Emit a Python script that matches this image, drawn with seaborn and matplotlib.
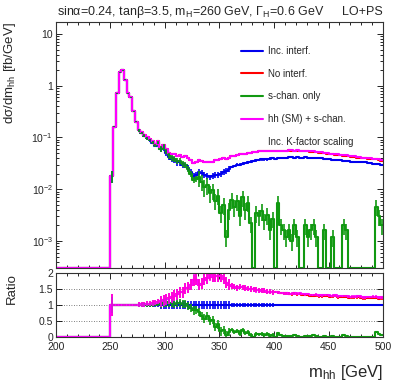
import numpy as np
import pandas as pd
import matplotlib
matplotlib.use("Agg")
import matplotlib.pyplot as plt
import seaborn as sns
from matplotlib.lines import Line2D
from matplotlib.ticker import MultipleLocator, LogLocator, NullFormatter, FuncFormatter

# 2.5 GeV bins, 200-500 GeV; bins below 250 GeV are empty
bin_width = 2.5
n_empty = 20

# hh (SM) + s-chan. (magenta), 250-500 GeV
hh_plus_s = [
    0.018, 0.16, 0.72, 1.8, 2.0, 1.3, 0.72, 0.60, 0.32, 0.20,
    0.14, 0.125, 0.11, 0.10, 0.092, 0.084, 0.074, 0.086, 0.066, 0.071,
    0.059, 0.051, 0.047, 0.048, 0.044, 0.046, 0.042, 0.044, 0.040, 0.036,
    0.032, 0.034, 0.036, 0.035, 0.034, 0.033, 0.033, 0.034, 0.036, 0.036,
    0.038, 0.040, 0.039, 0.041, 0.043, 0.044, 0.046, 0.047, 0.048, 0.049,
    0.050, 0.051, 0.052, 0.053, 0.054, 0.055, 0.055, 0.054, 0.055, 0.056,
    0.055, 0.056, 0.055, 0.056, 0.056, 0.057, 0.057, 0.056, 0.057, 0.056,
    0.055, 0.056, 0.055, 0.054, 0.054, 0.053, 0.052, 0.052, 0.051, 0.050,
    0.049, 0.048, 0.047, 0.047, 0.046, 0.045, 0.045, 0.044, 0.043, 0.043,
    0.042, 0.042, 0.041, 0.041, 0.040, 0.040, 0.039, 0.039, 0.038, 0.036,
]

# No interf. (red)
no_interf = [
    0.018, 0.16, 0.72, 1.8, 2.0, 1.3, 0.72, 0.60, 0.32, 0.20,
    0.14, 0.125, 0.11, 0.10, 0.092, 0.084, 0.074, 0.086, 0.066, 0.071,
    0.059, 0.051, 0.047, 0.048, 0.044, 0.046, 0.042, 0.044, 0.040, 0.036,
    0.032, 0.034, 0.036, 0.035, 0.034, 0.033, 0.033, 0.034, 0.036, 0.036,
    0.038, 0.040, 0.039, 0.041, 0.043, 0.044, 0.046, 0.047, 0.048, 0.049,
    0.050, 0.051, 0.052, 0.053, 0.054, 0.055, 0.055, 0.054, 0.055, 0.056,
    0.055, 0.056, 0.055, 0.056, 0.056, 0.057, 0.056, 0.056, 0.056, 0.055,
    0.054, 0.055, 0.054, 0.053, 0.053, 0.052, 0.051, 0.051, 0.050, 0.049,
    0.048, 0.047, 0.046, 0.046, 0.045, 0.044, 0.044, 0.043, 0.042, 0.042,
    0.041, 0.041, 0.040, 0.040, 0.039, 0.039, 0.038, 0.038, 0.037, 0.035,
]

# Inc. interf. (blue)
inc_interf = [
    0.018, 0.16, 0.72, 1.8, 2.0, 1.3, 0.72, 0.60, 0.32, 0.20,
    0.138, 0.122, 0.107, 0.096, 0.088, 0.079, 0.069, 0.078, 0.059, 0.062,
    0.050, 0.042, 0.038, 0.037, 0.033, 0.033, 0.030, 0.029, 0.026, 0.022,
    0.018, 0.019, 0.022, 0.021, 0.019, 0.018, 0.017, 0.018, 0.019, 0.019,
    0.020, 0.022, 0.023, 0.025, 0.027, 0.028, 0.030, 0.030, 0.031, 0.032,
    0.033, 0.034, 0.035, 0.036, 0.037, 0.038, 0.038, 0.038, 0.039, 0.040,
    0.039, 0.040, 0.040, 0.041, 0.041, 0.042, 0.042, 0.041, 0.042, 0.041,
    0.041, 0.042, 0.041, 0.041, 0.041, 0.040, 0.040, 0.040, 0.039, 0.038,
    0.038, 0.037, 0.036, 0.037, 0.036, 0.035, 0.035, 0.035, 0.034, 0.034,
    0.033, 0.033, 0.033, 0.033, 0.032, 0.032, 0.031, 0.031, 0.031, 0.029,
]

# s-chan. only (green)
s_chan = [
    0.018, 0.16, 0.72, 1.8, 2.0, 1.3, 0.72, 0.60, 0.32, 0.20,
    0.138, 0.123, 0.108, 0.097, 0.089, 0.080, 0.070, 0.080, 0.061, 0.066,
    0.054, 0.045, 0.040, 0.038, 0.035, 0.035, 0.031, 0.030, 0.025, 0.020,
    0.015, 0.016, 0.017, 0.014, 0.011, 0.012, 0.0085, 0.0095, 0.006, 0.0075,
    0.0035, 0.005, 0.0012, 0.004, 0.0063, 0.0045, 0.0058, 0.0030, 0.0070, 0.0040,
    0.0055, 0.0022, 0.0, 0.0035, 0.0030, 0.0038, 0.0025, 0.0032, 0.0016, 0.0027,
    0.0, 0.0054, 0.0020, 0.0016, 0.0012, 0.0016, 0.0010, 0.0020, 0.0012, 0.0,
    0.0, 0.0020, 0.0012, 0.0016, 0.0020, 0.0012, 0.0, 0.0, 0.0016, 0.0,
    0.0, 0.0012, 0.0, 0.0, 0.0, 0.0020, 0.0016, 0.0, 0.0, 0.0,
    0.0, 0.0, 0.0, 0.0, 0.0, 0.0, 0.0, 0.0046, 0.0030, 0.0020,
]

# relative statistical uncertainty, piecewise in m_hh
err_edges = [250, 252.5, 275, 295, 360, 400, 500]
err_rel = [0.25, 0.02, 0.06, 0.13, 0.06, 0.03]

series_names = ["Inc. interf.", "No interf.", "s-chan. only", "hh (SM) + s-chan."]
series_colors = ["#0000ee", "#ff0000", "#119911", "#ff00ff"]

# ------------------------------------------------------------------
low_edges = 200 + bin_width * np.arange(n_empty + len(inc_interf))
centers = low_edges + bin_width / 2
step_x = np.append(low_edges, 500.0)

vals = {}
for name, arr in zip(series_names, [inc_interf, no_interf, s_chan, hh_plus_s]):
    vals[name] = np.concatenate([np.zeros(n_empty), np.array(arr)])

rel = np.zeros(len(low_edges))
for lo, hi, e in zip(err_edges[:-1], err_edges[1:], err_rel):
    rel[(low_edges >= lo) & (low_edges < hi)] = e

denom = vals["Inc. interf."]
ratios = {}
for name in series_names:
    r = np.zeros(len(low_edges))
    ok = denom > 0
    r[ok] = vals[name][ok] / denom[ok]
    ratios[name] = r

ymin, ymax = 3e-4, 17

main_rows = []
ratio_rows = []
for name in series_names:
    v = np.where(vals[name] > 0, vals[name], ymin)
    v = np.append(v, v[-1])
    r = np.append(ratios[name], ratios[name][-1])
    for x, a, b in zip(step_x, v, r):
        main_rows.append((x, a, name))
        ratio_rows.append((x, b, name))
main_df = pd.DataFrame(main_rows, columns=["mhh", "value", "series"])
ratio_df = pd.DataFrame(ratio_rows, columns=["mhh", "ratio", "series"])

sns.set_theme(style="ticks")
plt.rcParams["font.family"] = ["Liberation Sans", "DejaVu Sans"]
plt.rcParams["mathtext.fontset"] = "custom"
plt.rcParams["mathtext.rm"] = "Liberation Sans"
plt.rcParams["mathtext.it"] = "Liberation Sans"
plt.rcParams["mathtext.bf"] = "Liberation Sans:bold"

fig = plt.figure(figsize=(3.99, 3.83), dpi=100)
ax = fig.add_axes([0.140, 0.300, 0.820, 0.6426])
axr = fig.add_axes([0.140, 0.120, 0.820, 0.1672])

palette = dict(zip(series_names, series_colors))
lw = 1.5

# main panel
sns.lineplot(data=main_df, x="mhh", y="value", hue="series", hue_order=series_names,
             palette=palette, drawstyle="steps-post", estimator=None, sort=False,
             linewidth=lw, legend=False, ax=ax)
for name in ["Inc. interf.", "s-chan. only"]:
    v = vals[name]
    e = rel if name == "Inc. interf." else np.maximum(rel, 0.35 * (centers > 330))
    m = v > 0
    ax.vlines(centers[m], v[m] * (1 - e[m]), v[m] * (1 + e[m]), color=palette[name], lw=1.2)

ax.set_yscale("log")
ax.set_xlim(200, 500)
ax.set_ylim(ymin, ymax)

def log_fmt(y, pos):
    if abs(y - 10) < 1e-9:
        return "10"
    if abs(y - 1) < 1e-9:
        return "1"
    return r"$10^{%d}$" % int(round(np.log10(y)))

ax.yaxis.set_major_locator(LogLocator(base=10, numticks=10))
ax.yaxis.set_minor_locator(LogLocator(base=10, subs=np.arange(2, 10), numticks=20))
ax.yaxis.set_major_formatter(FuncFormatter(log_fmt))
ax.yaxis.set_minor_formatter(NullFormatter())
ax.xaxis.set_major_locator(MultipleLocator(50))
ax.xaxis.set_minor_locator(MultipleLocator(10))
ax.tick_params(labelbottom=False)
ax.set_xlabel("")
ax.set_ylabel(r"d$\sigma$/dm$_{hh}$ [fb/GeV]", fontsize=9.5, ha="right")
ax.yaxis.set_label_coords(-0.116, 1.0)

handles = [Line2D([], [], color=c, lw=lw) for c in series_colors]
handles.append(Line2D([], [], color="none", lw=0))
ax.legend(handles, series_names + ["Inc. K-factor scaling"], loc="upper left",
          bbox_to_anchor=(0.553, 0.918), frameon=False, fontsize=7,
          handlelength=2.3, handletextpad=0.5, labelspacing=1.3, borderaxespad=0)

# ratio panel
for yg in [0.5, 1.0, 1.5]:
    axr.axhline(yg, color="#555555", lw=0.6, ls=(0, (1, 2)), zorder=0)
sns.lineplot(data=ratio_df, x="mhh", y="ratio", hue="series", hue_order=series_names,
             palette=palette, drawstyle="steps-post", estimator=None, sort=False,
             linewidth=lw, legend=False, ax=axr)
for name in series_names:
    r = ratios[name]
    m = r > 0
    axr.vlines(centers[m], r[m] - rel[m] * max(r[m].mean(), 1), r[m] + rel[m] * max(r[m].mean(), 1),
               color=palette[name], lw=1.2)

axr.set_xlim(200, 500)
axr.set_ylim(0, 2)
axr.yaxis.set_major_locator(MultipleLocator(0.5))
axr.yaxis.set_major_formatter(FuncFormatter(lambda y, p: "%g" % y))
axr.xaxis.set_major_locator(MultipleLocator(50))
axr.xaxis.set_minor_locator(MultipleLocator(10))
axr.set_xlabel("")
axr.set_ylabel("Ratio", fontsize=9.5, ha="right")
axr.yaxis.set_label_coords(-0.116, 1.0)

for a in [ax, axr]:
    a.tick_params(which="both", direction="in", top=True, right=True, labelsize=7.5,
                  color="black", pad=2)
    a.tick_params(which="major", length=4, width=0.6)
    a.tick_params(which="minor", length=2, width=0.6)
    for s in a.spines.values():
        s.set_color("#333333")
        s.set_linewidth(0.8)
axr.tick_params(axis="x", pad=3.5)

fig.text(0.143, 0.961, r"sin$\alpha$=0.24, tan$\beta$=3.5, m$_{H}$=260 GeV, $\Gamma_{H}$=0.6 GeV",
         fontsize=9, va="baseline", ha="left")
fig.text(0.96, 0.961, "LO+PS", fontsize=9, va="baseline", ha="right")
fig.text(0.96, 0.016, r"m$_{hh}$ [GeV]", fontsize=12, va="baseline", ha="right")

fig.savefig("out.png", dpi=100)
